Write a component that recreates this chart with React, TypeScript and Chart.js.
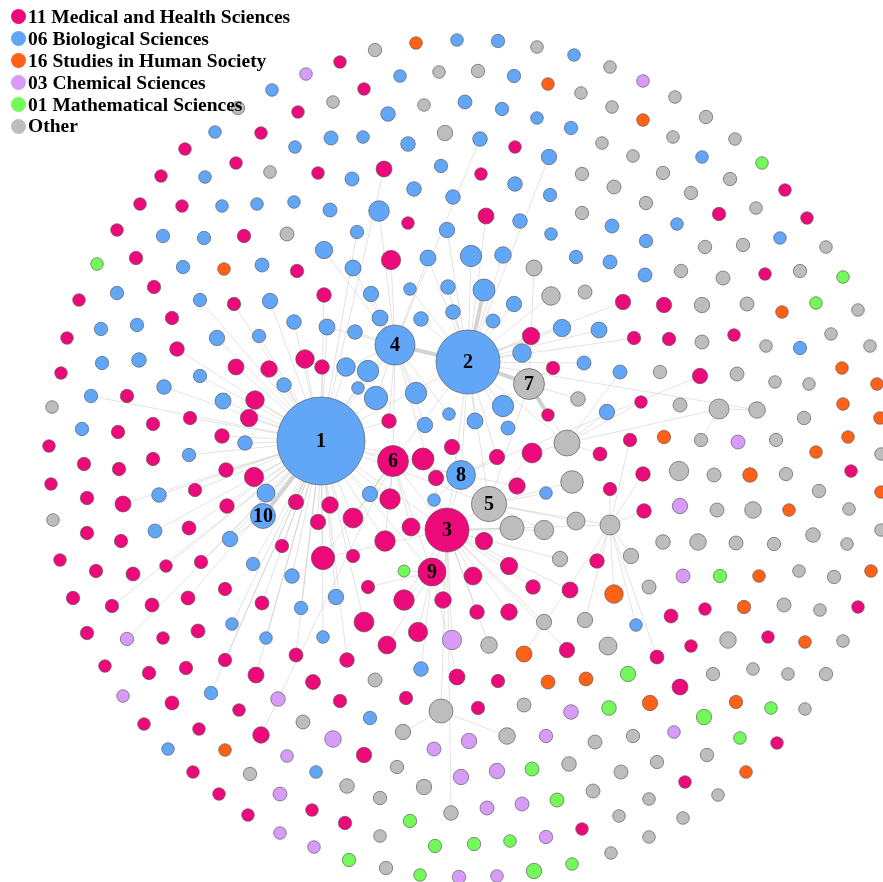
import React, { useEffect, useRef } from 'react';
import { Chart, registerables } from 'chart.js';

Chart.register(...registerables);

// node tuple: [x, y, size, links (space separated names, "!" = strong link), name]
type NodeT = [number, number, number, string?, string?];

const groupNames = [
  '11 Medical and Health Sciences',
  '06 Biological Sciences',
  '16 Studies in Human Society',
  '03 Chemical Sciences',
  '01 Mathematical Sciences',
  'Other',
];
const groupColors = ['#EC0A7B', '#62A6F8', '#FF6116', '#D79CF7', '#74F95B', '#BDBDBD'];

const medicalNodes: NodeT[] = [
  [447, 530, 22, '1', '3'], [393, 461, 15.5, '1 8 3 9', '6'], [432, 572, 14, '3 1', '9'],
  [298, 112, 6.3], [261, 133, 6.3], [185, 149, 6.3], [236, 163, 6.3], [161, 176, 6.3], [140, 204, 6.3],
  [182, 206, 6.3], [340, 62, 6.3], [364, 89, 6.3], [318, 173, 6.3], [384, 169, 8, '1'], [481, 174, 6.3],
  [486, 216, 8, '2'], [515, 147, 6.3], [408, 223, 6.3], [785, 190, 6.3], [719, 214, 6.7], [807, 218, 6.3],
  [117, 230, 6.3], [244, 236, 6.7], [136, 258, 6.7], [297, 271, 6.7], [79, 300, 6.3], [154, 287, 6.7],
  [234, 304, 6.7, '1'], [67, 338, 6.3], [172, 318, 6.7], [61, 373, 6.3], [177, 349, 7.3, '1'],
  [236, 367, 8, '1'], [269, 369, 8.3, '1'], [127, 396, 6.7], [255, 400, 9.3, '1'], [249, 418, 8.7, '1'],
  [190, 418, 6.7, '1'], [118, 432, 6.7], [153, 424, 6.7], [222, 436, 7.3, '1'], [49, 446, 6.3],
  [391, 260, 9.7, '4'], [324, 295, 7.3, '1'], [531, 336, 8.7, '2'], [305, 359, 9.3, '1'], [322, 367, 7.3, '1'],
  [553, 368, 6.7, '7'], [548, 415, 6.3, '7!'], [389, 421, 7.3, '1 4'], [452, 447, 7.7, '8'], [765, 274, 6.3],
  [623, 302, 7.7, '2'], [664, 305, 7.7], [634, 338, 6.7, '2'], [669, 339, 6.7], [734, 335, 6.3],
  [700, 376, 7.7, '8'], [641, 402, 6.3, 'c'], [630, 440, 6.7, 'a'], [84, 464, 6.7], [119, 469, 6.7],
  [153, 459, 6.7], [226, 470, 7.3, '1'], [254, 477, 9.7, '1 10'], [51, 484, 6.3], [87, 498, 6.7],
  [123, 504, 8, '1'], [195, 490, 6.7, '1'], [227, 506, 7.3, '1'], [87, 533, 6.7], [121, 541, 6.7],
  [189, 528, 7, '1'], [282, 546, 6.7, '1'], [296, 502, 7.7, '1'], [60, 560, 6.3], [96, 571, 6.7],
  [133, 574, 7], [166, 566, 6.3, '1'], [201, 562, 6.7, '1'], [73, 598, 6.7], [112, 606, 6.7, '1'],
  [152, 605, 7], [188, 598, 7, '1'], [225, 589, 6.7], [262, 603, 7, '1'], [87, 633, 6.7], [163, 638, 6.3],
  [198, 631, 7], [296, 655, 7, '1'], [105, 666, 6.3], [149, 673, 6.7], [186, 668, 6.7], [225, 660, 6.7, '1'],
  [256, 675, 8, '1'], [172, 703, 7], [239, 710, 6.3], [144, 724, 6.3], [199, 729, 6.3], [261, 735, 8.3, '6'],
  [193, 772, 6.3], [219, 794, 6.3], [248, 815, 6.3], [423, 459, 11, '6 1'], [497, 457, 7.7, '8 2'],
  [532, 453, 10, '5 c'], [436, 478, 7.7, '8'], [330, 505, 8.3, '1'], [390, 499, 10.3, '6 1'],
  [517, 486, 8.3, '5 8'], [318, 522, 7.7, '1'], [353, 518, 10, '1 6'], [411, 527, 9, '6 3'],
  [385, 541, 10.3, '1 6'], [484, 541, 8.7, '3'], [323, 558, 11.7, '1 6 3'], [353, 556, 6.7, '1'],
  [473, 576, 9, '3'], [509, 566, 8.7, '3'], [368, 587, 6.7, '9'], [404, 600, 10.3, '9 3'],
  [443, 600, 8.3, '3 9'], [533, 587, 7.3, '3'], [570, 590, 8, '3'], [364, 622, 10, '1'], [477, 612, 7.3, '3'],
  [509, 612, 8.3, '3'], [418, 632, 9.7, '9'], [567, 650, 7.7, '3'], [387, 645, 9, '9'], [347, 660, 7.3, '1'],
  [600, 454, 7, 'c'], [643, 474, 7.3, 'a'], [851, 471, 6.3], [610, 489, 6.7, 'a'], [644, 511, 7.3, 'a'],
  [597, 561, 7.3, 'a'], [671, 616, 7], [705, 609, 6.3], [858, 607, 6.3], [691, 646, 6.3], [768, 637, 6.3],
  [657, 657, 7, 'a'], [457, 677, 8, '9'], [313, 682, 7.5], [498, 681, 6.7], [340, 701, 6.7], [406, 698, 6.7],
  [478, 708, 6.7], [364, 755, 7.7], [312, 810, 6.3], [345, 823, 6.7], [582, 829, 6.3], [680, 687, 8],
  [777, 743, 6.3], [685, 782, 6.3],
];

const biologicalNodes: NodeT[] = [
  [321, 441, 44, '', '1'], [468, 362, 32, '1 3 8 5 6', '2'], [395, 345, 20, '2! 1 6 3', '4'],
  [461, 475, 14.5, '1 3', '8'], [263, 516, 12.5, '1!', '10'],
  [272, 90, 6.3], [215, 132, 6.3], [295, 147, 6.3], [205, 177, 6.3], [222, 206, 6.3], [257, 204, 6.3],
  [294, 202, 6.3], [457, 40, 6.3], [498, 41, 6.7], [574, 55, 6.3], [400, 76, 6.3], [514, 76, 6.7],
  [388, 114, 7.3], [465, 102, 7], [502, 109, 6.7], [537, 118, 6.3], [571, 128, 6.7], [331, 138, 7],
  [363, 137, 6.3], [408, 144, 7.3], [480, 139, 7.3, '4'], [549, 157, 7.7, '2'], [352, 179, 7], [441, 166, 6.7],
  [515, 184, 7.3], [550, 195, 6.7], [330, 210, 7], [379, 211, 10.3, '4'], [414, 189, 7.3], [453, 197, 7.3],
  [520, 221, 7.3], [612, 226, 7], [677, 224, 6.3], [702, 157, 6.3],
  [163, 236, 6.7], [204, 238, 6.7], [183, 267, 6.7], [262, 265, 7], [117, 293, 6.7], [200, 300, 6.7, '1'],
  [270, 301, 7.7, '1'], [101, 329, 6.7], [137, 325, 6.7], [217, 338, 7.7, '1'], [259, 336, 6.7, '1'],
  [294, 322, 7.3, '1'], [102, 363, 6.7], [139, 360, 7.3], [200, 376, 6.7, '1'], [284, 385, 7.3, '1'],
  [91, 396, 6.7, '1'], [164, 387, 7.3, '1'], [223, 401, 8, '1'], [82, 429, 6.7], [245, 443, 7.3, '1'],
  [357, 232, 6.7, '1'], [447, 230, 7.7, '2'], [551, 234, 6.3], [324, 250, 8.7, '4'], [428, 258, 8, '4 2'],
  [471, 256, 10.7, '2'], [503, 255, 8.3, '2'], [576, 257, 6.7], [353, 268, 8, '4'], [371, 294, 7.7, '4'],
  [410, 289, 6.3, '2'], [448, 287, 7.3, '2'], [484, 290, 11, '2!'], [327, 327, 8, '4 1'], [355, 332, 7.3, '4'],
  [380, 318, 8, '4'], [421, 319, 7.3, '2'], [453, 312, 7.3, '2'], [493, 321, 7, '2'], [514, 304, 7.7, '2'],
  [562, 328, 8.7, '2'], [346, 367, 9.3, '4 1'], [368, 371, 10.7, '4 1'], [522, 353, 9.3, '2'], [584, 363, 7, '2'],
  [358, 388, 6.3, '1 4'], [376, 398, 11.7, '4 1'], [416, 393, 10.7, '4'], [503, 406, 10.7, '2'],
  [449, 414, 6.3, '4'], [425, 425, 7.7, '4'], [475, 421, 8, '2'], [508, 428, 7, '2'],
  [646, 241, 6.7], [780, 238, 6.3], [610, 262, 7], [645, 275, 7], [599, 330, 8, '2'], [800, 348, 6.7],
  [620, 372, 7, 'c'], [607, 412, 7.7, 'c'],
  [189, 455, 6.7, '1'], [159, 495, 7.3, '1'], [266, 493, 9, '1 10'], [155, 531, 7, '1'], [230, 539, 7.7, '1 10'],
  [253, 564, 6.7, '1'], [292, 576, 7.3, '1'], [301, 608, 6.7, '1'], [232, 624, 6.3, '1'], [266, 638, 6.3, '1'],
  [370, 494, 7.7, '1 6'], [434, 500, 6.3, '8'], [546, 493, 6.3, '5'], [336, 597, 7.7, '1'], [323, 637, 6.3, '1'],
  [421, 669, 7.3, '9'], [636, 625, 6.3, 'a'], [211, 693, 6.7, '1'], [168, 749, 6.3], [370, 718, 6.7],
  [316, 772, 6.3],
];

const humanSocietyNodes: NodeT[] = [
  [416, 43, 6.3], [548, 84, 6.3], [643, 120, 6.3], [224, 269, 6.3], [782, 312, 6.3], [842, 368, 6.3],
  [877, 384, 6.3], [843, 404, 6.3], [880, 418, 6.3], [664, 437, 6.7], [848, 437, 6.3], [816, 452, 6.3],
  [750, 475, 7.3], [881, 492, 6.3], [789, 510, 6.3], [759, 576, 6.3], [871, 571, 6.3], [614, 594, 9.3, 'a'],
  [744, 607, 6.7], [805, 642, 6.3], [524, 654, 8, 'a'], [548, 682, 7], [586, 679, 7], [650, 703, 7.7],
  [736, 702, 6.7], [746, 772, 6.3], [225, 750, 6.3],
];

const chemicalNodes: NodeT[] = [
  [306, 74, 6.3], [643, 81, 6.3], [738, 442, 7], [680, 506, 7.7], [683, 576, 7], [127, 639, 6.7, '1'],
  [452, 640, 9.7, '3'], [123, 696, 6.3], [278, 699, 7.3], [287, 756, 6.3], [280, 794, 7], [280, 833, 6.3],
  [571, 712, 7.3], [333, 739, 8.3], [469, 741, 7.7], [546, 736, 6.7], [434, 749, 7], [461, 777, 7.7],
  [497, 771, 7.7], [487, 808, 7], [522, 804, 7], [314, 847, 6.3], [546, 837, 6.7], [459, 877, 6.7],
  [497, 876, 6.3], [674, 732, 6.3],
];

const mathNodes: NodeT[] = [
  [762, 163, 6.3], [97, 264, 6.3], [843, 277, 6.3], [816, 303, 6.3], [404, 571, 6, '9'], [720, 576, 6.7],
  [532, 769, 7], [557, 800, 7], [410, 821, 6.7], [435, 846, 6.7], [474, 844, 6.7], [510, 841, 6.3],
  [349, 860, 6.7], [420, 875, 6.3], [534, 871, 7.7], [572, 864, 6.3], [628, 674, 7.7], [609, 708, 7.3],
  [704, 717, 7.7], [771, 708, 6.3], [740, 738, 6.3],
];

const otherNodes: NodeT[] = [
  [489, 504, 17.5, '3 8 1', '5'], [529, 384, 15.5, '2! 5', '7'],
  [238, 108, 6.7], [270, 172, 6.3], [375, 50, 6.7], [537, 47, 6.3], [439, 72, 6.3], [478, 71, 6.7],
  [581, 93, 6.3], [333, 102, 6.3], [424, 105, 6.3], [445, 133, 7.7], [582, 174, 6.7], [582, 213, 6.7],
  [610, 67, 6.3], [675, 97, 6.3], [612, 107, 6.3], [706, 117, 6.7], [602, 143, 6.3], [673, 137, 6.3],
  [735, 139, 6.3], [633, 156, 6.3], [663, 173, 6.7], [730, 179, 6.7], [614, 187, 7], [691, 193, 6.7],
  [646, 203, 6.7], [756, 208, 6.3], [287, 234, 7], [52, 407, 6.3],
  [534, 268, 8, '7'], [551, 296, 9.3, '2'], [585, 292, 7], [578, 399, 7.3, '7'], [567, 443, 13, '7 2', 'c'],
  [705, 247, 6.7], [743, 245, 6.7], [826, 247, 6.3], [681, 271, 6.7], [723, 278, 7], [800, 271, 6.7],
  [702, 305, 7.7], [747, 304, 7], [858, 310, 6.3], [702, 342, 7], [766, 346, 6.3], [831, 334, 6.3],
  [870, 346, 6.3], [660, 372, 6.7], [737, 374, 7], [775, 382, 6.3], [809, 384, 6.3], [680, 405, 7],
  [719, 409, 10, 'c', 'e'], [757, 410, 8.3, 'e 2'], [804, 418, 6.7], [701, 440, 6.7, 'e'], [776, 440, 6.7],
  [53, 520, 6.3],
  [572, 482, 11.3, '5'], [512, 528, 12, '3 5'], [544, 530, 9.7, '5 3'], [576, 521, 9, '5'], [560, 559, 7.7, '3'],
  [544, 622, 7.7, '3'], [585, 620, 7.7, 'a'], [489, 645, 8.3, '3'], [881, 454, 6.3], [679, 471, 9.7],
  [714, 475, 7], [786, 474, 6.7], [819, 491, 6.7], [717, 510, 7], [753, 510, 8.3], [849, 509, 6.3],
  [610, 525, 10, '5 3', 'a'], [663, 542, 7.3], [698, 542, 8.3], [736, 543, 7], [774, 544, 6.7], [813, 535, 7.3],
  [847, 544, 6.3], [881, 530, 6.3], [631, 556, 7.7, 'a'], [799, 571, 6.3], [834, 577, 6.7], [649, 587, 7],
  [784, 605, 7], [820, 610, 6.3], [608, 646, 9], [728, 640, 8.3], [843, 641, 6.3],
  [375, 680, 7], [524, 705, 7], [441, 711, 12, '3', 'b'], [303, 722, 7], [403, 732, 7.7, 'b'],
  [507, 736, 8.3, 'b'], [397, 767, 6.7], [569, 764, 7.3], [347, 786, 7.3], [424, 787, 7.7], [380, 798, 6.7],
  [451, 813, 7.3, '3'], [593, 791, 7], [380, 836, 6.3], [386, 868, 6.7], [250, 774, 6.7], [713, 674, 6.7],
  [753, 669, 6.3], [788, 674, 6.3], [826, 674, 6.7], [805, 709, 6.3], [595, 742, 7], [633, 736, 6.7],
  [707, 755, 6.7], [621, 772, 7], [657, 762, 6.7], [649, 799, 6.3], [718, 795, 6.3], [619, 816, 6.3],
  [683, 818, 6.3], [649, 837, 6.3], [611, 853, 6.3],
];

const groupNodes: NodeT[][] = [medicalNodes, biologicalNodes, humanSocietyNodes, chemicalNodes, mathNodes, otherNodes];

const serif = '"Liberation Serif", "Times New Roman", serif';
const PAGE_W = 883;
const PAGE_H = 882;
const BLEED = 60; // canvas extends past the page so the bubble inset falls outside it

export default function App() {
  const ref = useRef<HTMLCanvasElement>(null);

  useEffect(() => {
    if (!ref.current) return;
    const named: Record<string, { x: number; y: number }> = {};
    groupNodes.forEach((g) => g.forEach((n) => { if (n[4]) named[n[4]] = { x: n[0], y: n[1] }; }));

    const edgePlugin = {
      id: 'edges',
      beforeDatasetsDraw(chart: any) {
        const { ctx } = chart;
        const xs = chart.scales.x;
        const ys = chart.scales.y;
        ctx.save();
        ctx.lineCap = 'round';
        groupNodes.forEach((g) => g.forEach((n) => {
          if (!n[3]) return;
          n[3].split(' ').forEach((tok) => {
            if (!tok) return;
            const strong = tok.endsWith('!');
            const t = named[tok.replace('!', '')];
            if (!t) return;
            ctx.beginPath();
            ctx.strokeStyle = strong ? 'rgba(200,200,200,0.8)' : 'rgba(185,185,185,0.4)';
            ctx.lineWidth = strong ? 4 : 1;
            ctx.moveTo(xs.getPixelForValue(n[0]), ys.getPixelForValue(n[1]));
            ctx.lineTo(xs.getPixelForValue(t.x), ys.getPixelForValue(t.y));
            ctx.stroke();
          });
        }));
        ctx.restore();
      },
    };

    const labelPlugin = {
      id: 'hubLabels',
      afterDatasetsDraw(chart: any) {
        const { ctx } = chart;
        const xs = chart.scales.x;
        const ys = chart.scales.y;
        ctx.save();
        ctx.fillStyle = '#000';
        ctx.font = `bold 20px ${serif}`;
        ctx.textAlign = 'center';
        ctx.textBaseline = 'middle';
        groupNodes.forEach((g) => g.forEach((n) => {
          if (n[4] && /^\d+$/.test(n[4])) {
            ctx.fillText(n[4], xs.getPixelForValue(n[0]), ys.getPixelForValue(n[1]) + 1);
          }
        }));
        ctx.restore();
      },
    };

    const chart = new Chart(ref.current, {
      type: 'bubble',
      data: {
        datasets: groupNodes.map((g, i) => ({
          label: groupNames[i],
          data: g.map((n) => ({ x: n[0], y: n[1], r: n[2] })),
          backgroundColor: groupColors[i],
          borderColor: 'rgba(85,85,85,0.8)',
          borderWidth: 0.8,
          clip: false as any,
        })),
      },
      options: {
        responsive: false,
        animation: false,
        events: [],
        layout: { padding: 0 },
        scales: {
          x: { type: 'linear', min: 0, max: PAGE_W, display: false },
          y: { type: 'linear', min: 0, max: PAGE_H, reverse: true, display: false },
        },
        plugins: { legend: { display: false }, tooltip: { enabled: false } },
      },
      plugins: [edgePlugin, labelPlugin],
    } as any);

    // one data unit = one page pixel: value range equals the plot area's pixel extent
    const area = chart.chartArea;
    const opts: any = chart.options.scales;
    opts.x.min = area.left - BLEED;
    opts.x.max = area.right - BLEED;
    opts.y.min = area.top - BLEED;
    opts.y.max = area.bottom - BLEED;
    chart.update();

    return () => chart.destroy();
  }, []);

  return (
    <div style={{ position: 'fixed', left: 0, top: 0, width: PAGE_W, height: PAGE_H, background: '#fff', overflow: 'hidden' }}>
      <canvas
        ref={ref}
        width={PAGE_W + 2 * BLEED}
        height={PAGE_H + 2 * BLEED}
        style={{ position: 'absolute', left: -BLEED, top: -BLEED, width: PAGE_W + 2 * BLEED, height: PAGE_H + 2 * BLEED }}
      />
      <div style={{ position: 'absolute', left: 11, top: 6 }}>
        {groupNames.map((name, i) => (
          <div
            key={name}
            style={{
              position: 'relative',
              height: 21.9,
              lineHeight: '21.9px',
              paddingLeft: 17,
              fontFamily: serif,
              fontWeight: 'bold',
              fontSize: 19.5,
              whiteSpace: 'nowrap',
              color: '#000',
            }}
          >
            <span
              style={{
                position: 'absolute',
                left: 0,
                top: 3.45,
                width: 15,
                height: 15,
                borderRadius: '50%',
                background: groupColors[i],
              }}
            />
            {name}
          </div>
        ))}
      </div>
    </div>
  );
}
